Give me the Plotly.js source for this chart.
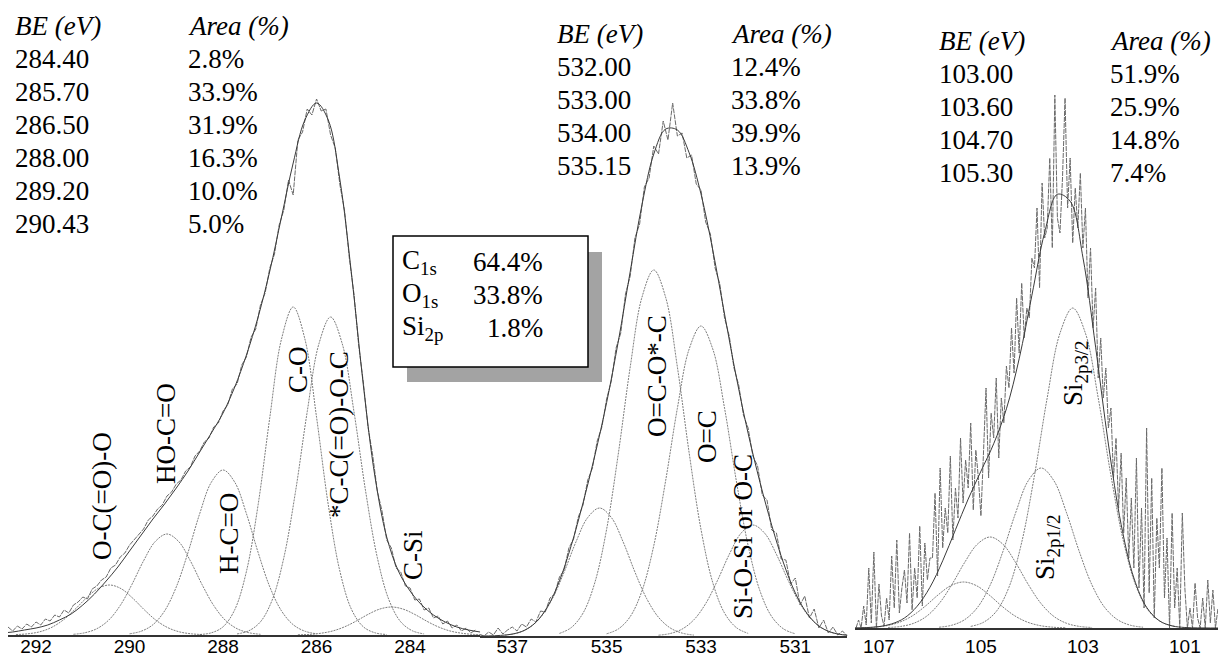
<!DOCTYPE html>
<html>
<head>
<meta charset="utf-8">
<script src="https://cdn.plot.ly/plotly-3.0.1.min.js"></script>
<style>html,body{margin:0;padding:0;background:#fff;}#chart{width:1218px;height:657px;}</style>
</head>
<body>
<div id="chart"></div>
<script>
// ---------------- C1s panel ----------------
const c1sTickVals = [292, 290, 288, 286, 284];
const c1sTickText = ['292', '290', '288', '286', '284'];
const c1sBE = ['284.40', '285.70', '286.50', '288.00', '289.20', '290.43'];
const c1sArea = ['2.8%', '33.9%', '31.9%', '16.3%', '10.0%', '5.0%'];

const c1sOCOO_E = [292.43,292.18,291.93,291.68,291.43,291.18,290.93,290.68,290.43,290.18,289.93,289.68,289.43,289.18,288.93,288.68,288.43];
const c1sOCOO_I = [0.4,1.2,3.1,7.3,14.6,25.0,36.7,46.3,50.0,46.3,36.7,25.0,14.6,7.3,3.1,1.2,0.4];
const c1sHOCO_E = [291.2,290.95,290.7,290.45,290.2,289.95,289.7,289.45,289.2,288.95,288.7,288.45,288.2,287.95,287.7,287.45,287.2];
const c1sHOCO_I = [0.7,2.3,6.3,14.7,29.5,50.5,74.2,93.5,101,93.5,74.2,50.5,29.5,14.7,6.3,2.3,0.7];
const c1sHCO_E = [290.0,289.75,289.5,289.25,289.0,288.75,288.5,288.25,288.0,287.75,287.5,287.25,287.0,286.75,286.5,286.25,286.0];
const c1sHCO_I = [1.2,3.8,10.3,24.1,48.1,82.5,121.3,152.8,165,152.8,121.3,82.5,48.1,24.1,10.3,3.8,1.2];
const c1sCO_E = [288.5,288.25,288.0,287.75,287.5,287.25,287.0,286.75,286.5,286.25,286.0,285.75,285.5,285.25,285.0,284.75,284.5];
const c1sCO_I = [0.5,2.2,8.2,25.3,63.6,130.3,217.6,296.0,328,296.0,217.6,130.3,63.6,25.3,8.2,2.2,0.5];
const c1sCC_E = [287.7,287.45,287.2,286.95,286.7,286.45,286.2,285.95,285.7,285.45,285.2,284.95,284.7,284.45,284.2,283.95,283.7];
const c1sCC_I = [1.1,4.2,13.2,34.9,77.3,143.5,223.3,291.1,318,291.1,223.3,143.5,77.3,34.9,13.2,4.2,1.1];
const c1sCSi_E = [286.4,286.15,285.9,285.65,285.4,285.15,284.9,284.65,284.4,284.15,283.9,283.65,283.4,283.15,282.9,282.65,282.4];
const c1sCSi_I = [0.2,0.6,1.8,4.1,8.2,14.0,20.6,25.9,28,25.9,20.6,14.0,8.2,4.1,1.8,0.6,0.2];

const c1sEnv_E = [292.75,292.5,292.25,292.0,291.75,291.5,291.25,291.0,290.75,290.5,290.25,290.0,289.75,289.5,289.25,289.0,288.75,288.5,288.25,288.0,287.75,287.5,287.25,287.0,286.75,286.5,286.25,286.0,285.75,285.5,285.25,285.0,284.75,284.5,284.25,284.0,283.75,283.5,283.25,283.0,282.75,282.5];
const c1sEnv_I = [2,3,5,7,10,15,21,30,41,54,68,84,100,116,131,147,164,183,202,222,248,280,318,364,418,472,515,532,515,455,360,250,158,98,64,44,30,20,13,8,5,3];

const c1sData_E = [292.6,292.5,292.4,292.3,292.2,292.1,292.0,
 291.9,291.8,291.7,291.6,291.5,291.4,291.3,291.2,291.1,291.0,
 290.9,290.8,290.7,290.6,290.5,290.4,290.3,290.2,290.1,290.0,
 289.9,289.8,289.7,289.6,289.5,289.4,289.3,289.2,289.1,289.0,
 288.9,288.8,288.7,288.6,288.5,288.4,288.3,288.2,288.1,288.0,
 287.9,287.8,287.7,287.6,287.5,287.4,287.3,287.2,287.1,287.0,
 286.9,286.8,286.7,286.6,286.5,286.4,286.3,286.2,286.1,286.0,
 285.9,285.8,285.7,285.6,285.5,285.4,285.3,285.2,285.1,285.0,
 284.9,284.8,284.7,284.6,284.5,284.4,284.3,284.2,284.1,284.0,
 283.9,283.8,283.7,283.6,283.5,283.4,283.3,283.2,283.1,283.0,
 282.9,282.8,282.7,282.6];
const c1sData_I = [8,4,9,6,11,8,13,
 10,16,14,20,18,25,22,30,33,38,
 36,46,49,55,58,67,70,78,82,90,
 95,101,106,115,119,126,130,139,143,151,
 155,164,168,179,184,193,197,208,212,224,
 230,246,251,270,278,298,306,330,342,367,
 381,410,425,455,440,495,503,526,520,536,
 524,526,500,487,450,424,377,341,290,253,
 208,180,144,124,95,87,67,63,49,47,
 35,36,25,27,17,19,11,14,7,10,
 4,7,2,5];

// ---------------- O1s panel ----------------
const o1sTickVals = [537, 535, 533, 531];
const o1sTickText = ['537', '535', '533', '531'];
const o1sBE = ['532.00', '533.00', '534.00', '535.15'];
const o1sArea = ['12.4%', '33.8%', '39.9%', '13.9%'];

const o1sP1_E = [537.15,536.9,536.65,536.4,536.15,535.9,535.65,535.4,535.15,534.9,534.65,534.4,534.15,533.9,533.65,533.4,533.15];
const o1sP1_I = [0.9,2.9,8.0,18.7,37.3,64.0,94.1,118.5,128,118.5,94.1,64.0,37.3,18.7,8.0,2.9,0.9];
const o1sP2_E = [536.0,535.75,535.5,535.25,535.0,534.75,534.5,534.25,534.0,533.75,533.5,533.25,533.0,532.75,532.5,532.25,532.0];
const o1sP2_I = [2.6,8.4,22.9,53.4,106.7,183.0,269.0,338.9,366,338.9,269.0,183.0,106.7,53.4,22.9,8.4,2.6];
const o1sP3_E = [535.0,534.75,534.5,534.25,534.0,533.75,533.5,533.25,533.0,532.75,532.5,532.25,532.0,531.75,531.5,531.25,531.0];
const o1sP3_I = [2.2,7.1,19.4,45.2,90.4,155.0,227.8,287.0,310,287.0,227.8,155.0,90.4,45.2,19.4,7.1,2.2];
const o1sP4_E = [533.9,533.65,533.4,533.15,532.9,532.65,532.4,532.15,531.9,531.65,531.4,531.15,530.9,530.65,530.4,530.15,529.9];
const o1sP4_I = [0.8,2.5,6.9,16.2,32.4,55.5,81.6,102.8,111,102.8,81.6,55.5,32.4,16.2,6.9,2.5,0.8];

const o1sEnv_E = [537.75,537.5,537.25,537.0,536.75,536.5,536.25,536.0,535.75,535.5,535.25,535.0,534.75,534.5,534.25,534.0,533.75,533.5,533.25,533.0,532.75,532.5,532.25,532.0,531.75,531.5,531.25,531.0,530.75,530.5,530.25,530.0,529.75];
const o1sEnv_I = [0,0.1,0.6,1.9,5.5,13.7,29.5,55.1,90.5,133.1,180.4,233.4,295.2,364.4,431.4,482.0,506.9,506.0,483.2,442.1,386.0,321.9,258.8,202.6,153.9,110.7,73.0,43.1,22.4,10.0,3.9,1.3,0.4];

const o1sData_E = [537.7,537.6,537.5,537.4,537.3,537.2,537.1,537.0,
 536.9,536.8,536.7,536.6,536.5,536.4,536.3,536.2,536.1,536.0,
 535.9,535.8,535.7,535.6,535.5,535.4,535.3,535.2,535.1,535.0,
 534.9,534.8,534.7,534.6,534.5,534.4,534.3,534.2,534.1,534.0,
 533.9,533.8,533.7,533.6,533.5,533.4,533.3,533.2,533.1,533.0,
 532.9,532.8,532.7,532.6,532.5,532.4,532.3,532.2,532.1,532.0,
 531.9,531.8,531.7,531.6,531.5,531.4,531.3,531.2,531.1,531.0,
 530.9,530.8,530.7,530.6,530.5,530.4,530.3,530.2,530.1,530.0,
 529.9];
const o1sData_I = [2,0,4,1,8,2,6,9,
 5,12,9,17,14,25,24,38,42,59,
 66,88,97,119,131,156,168,195,209,237,
 255,288,303,342,360,398,412,449,458,490,
 482,515,496,533,500,503,478,481,452,446,
 414,402,368,352,318,300,268,251,221,208,
 180,170,141,136,106,103,77,76,52,58,
 31,40,18,27,8,16,3,9,1,5,
 0];

// ---------------- Si2p panel ----------------
const si2pTickVals = [107, 105, 103, 101];
const si2pTickText = ['107', '105', '103', '101'];
const si2pBE = ['103.00', '103.60', '104.70', '105.30'];
const si2pArea = ['51.9%', '25.9%', '14.8%', '7.4%'];

const siP1_E = [105.2,104.95,104.7,104.45,104.2,103.95,103.7,103.45,103.2,102.95,102.7,102.45,102.2,101.95,101.7,101.45,101.2];
const siP1_I = [1.6,5.7,16.5,40.8,85.7,152.5,230.2,294.7,320,294.7,230.2,152.5,85.7,40.8,16.5,5.7,1.6];
const siP2_E = [105.82,105.57,105.32,105.07,104.82,104.57,104.32,104.07,103.82,103.57,103.32,103.07,102.82,102.57,102.32,102.07,101.82];
const siP2_I = [0.8,2.8,8.3,20.4,42.8,76.3,115.1,147.4,160,147.4,115.1,76.3,42.8,20.4,8.3,2.8,0.8];
const siP3_E = [106.82,106.57,106.32,106.07,105.82,105.57,105.32,105.07,104.82,104.57,104.32,104.07,103.82,103.57,103.32,103.07,102.82];
const siP3_I = [0.5,1.6,4.7,11.6,24.4,43.4,65.5,83.8,91,83.8,65.5,43.4,24.4,11.6,4.7,1.6,0.5];
const siP4_E = [107.34,107.09,106.84,106.59,106.34,106.09,105.84,105.59,105.34,105.09,104.84,104.59,104.34,104.09,103.84,103.59,103.34];
const siP4_I = [0.2,0.8,2.4,5.9,12.3,21.9,33.1,42.4,46,42.4,33.1,21.9,12.3,5.9,2.4,0.8,0.2];

const siEnv_E = [107.5,107.25,107,106.75,106.5,106.25,106,105.75,105.5,105.25,105,104.75,104.5,104.25,104,103.75,103.5,103.25,103,102.75,102.5,102.25,102,101.75,101.5,101.25,101,100.75,100.5,100.25];
const siEnv_I = [0.1,0.4,1.4,4.1,10.0,21.8,40.7,67.2,98.2,128.9,156.8,184.2,219.2,269.2,332.8,395.5,433.7,426.8,370.8,280.8,184.0,103.6,50.0,20.7,7.2,2.1,0.5,0.1,0,0];

const siData_E = [107.45,107.40,107.35,107.30,107.25,107.20,107.15,107.10,107.05,107.00,
 106.95,106.90,106.85,106.80,106.75,106.70,106.65,106.60,106.55,106.50,
 106.45,106.40,106.35,106.30,106.25,106.20,106.15,106.10,106.05,106.00,
 105.95,105.90,105.85,105.80,105.75,105.70,105.65,105.60,105.55,105.50,
 105.45,105.40,105.35,105.30,105.25,105.20,105.15,105.10,105.05,105.00,
 104.95,104.90,104.85,104.80,104.75,104.70,104.65,104.60,104.55,104.50,
 104.45,104.40,104.35,104.30,104.25,104.20,104.15,104.10,104.05,104.00,
 103.95,103.90,103.85,103.80,103.75,103.70,103.65,103.60,103.55,103.50,
 103.45,103.40,103.35,103.30,103.25,103.20,103.15,103.10,103.05,103.00,
 102.95,102.90,102.85,102.80,102.75,102.70,102.65,102.60,102.55,102.50,
 102.45,102.40,102.35,102.30,102.25,102.20,102.15,102.10,102.05,102.00,
 101.95,101.90,101.85,101.80,101.75,101.70,101.65,101.60,101.55,101.50,
 101.45,101.40,101.35,101.30,101.25,101.20,101.15,101.10,101.05,101.00,
 100.95,100.90,100.85,100.80,100.75,100.70,100.65,100.60,100.55,100.50,100.45,100.40,100.35];
const siData_I = [0,8,0,22,3,60,5,76,0,44,
 12,2,30,8,72,20,88,15,40,58,
 25,95,18,60,30,102,22,85,48,70,
 70,135,52,160,80,120,95,172,88,140,
 110,190,125,168,140,205,118,178,150,112,
 175,240,150,215,190,250,170,230,205,262,
 240,300,255,330,275,345,290,320,310,370,
 360,420,340,445,390,400,470,380,533,410,
 395,450,530,420,470,385,440,400,455,380,
 420,330,380,300,340,250,290,230,260,200,
 220,150,190,120,175,95,150,70,130,60,
 170,40,120,20,200,35,150,10,110,60,
 160,30,90,0,115,20,60,0,115,40,
 0,20,0,45,10,0,30,0,48,5,38,0,20];

// ---------------- summary box ----------------
const totalLabels = ['C<sub>1s</sub>', 'O<sub>1s</sub>', 'Si<sub>2p</sub>'];
const totalValues = ['64.4%', '33.8%', '1.8%'];

// ---------------- drawing ----------------
const W = 1218, H = 657;
const px = v => v / W;
const py = v => 1 - v / H;

const compLine = {color: '#6e6e6e', width: 0.9, dash: '2px,1px'};
const envLine = {color: '#3a3a3a', width: 1};
const dataLine = {color: '#6a6a6a', width: 1, dash: '5px,1px'};

function tr(x, y, ax, line, shape) {
  return {x: x, y: y, type: 'scatter', mode: 'lines', xaxis: 'x' + ax, yaxis: 'y' + ax,
    line: Object.assign({shape: shape}, line), hoverinfo: 'skip'};
}

const traces = [
  tr(c1sOCOO_E, c1sOCOO_I, '', compLine, 'spline'),
  tr(c1sHOCO_E, c1sHOCO_I, '', compLine, 'spline'),
  tr(c1sHCO_E, c1sHCO_I, '', compLine, 'spline'),
  tr(c1sCO_E, c1sCO_I, '', compLine, 'spline'),
  tr(c1sCC_E, c1sCC_I, '', compLine, 'spline'),
  tr(c1sCSi_E, c1sCSi_I, '', compLine, 'spline'),
  tr(c1sData_E, c1sData_I, '', dataLine, 'linear'),
  tr(c1sEnv_E, c1sEnv_I, '', envLine, 'spline'),

  tr(o1sP1_E, o1sP1_I, '2', compLine, 'spline'),
  tr(o1sP2_E, o1sP2_I, '2', compLine, 'spline'),
  tr(o1sP3_E, o1sP3_I, '2', compLine, 'spline'),
  tr(o1sP4_E, o1sP4_I, '2', compLine, 'spline'),
  tr(o1sData_E, o1sData_I, '2', dataLine, 'linear'),
  tr(o1sEnv_E, o1sEnv_I, '2', envLine, 'spline'),

  tr(siP1_E, siP1_I, '3', compLine, 'spline'),
  tr(siP2_E, siP2_I, '3', compLine, 'spline'),
  tr(siP3_E, siP3_I, '3', compLine, 'spline'),
  tr(siP4_E, siP4_I, '3', compLine, 'spline'),
  tr(siData_E, siData_I, '3', dataLine, 'linear'),
  tr(siEnv_E, siEnv_I, '3', envLine, 'spline')
];

const tickFont = {family: '"Liberation Sans", Arial, sans-serif', size: 19, color: '#000'};
function xax(domain, range, vals, text, yname, standoff) {
  return {domain: domain, range: range, anchor: yname, tickmode: 'array',
    tickvals: vals, ticktext: text, showline: true, linecolor: '#333', linewidth: 1.5,
    showgrid: false, zeroline: false, ticks: '', tickfont: tickFont, fixedrange: true,
    ticklabelstandoff: standoff};
}
function yax(domain, range) {
  return {domain: domain, range: range, visible: false, showgrid: false, zeroline: false, fixedrange: true};
}

const serif = '"Liberation Serif", "Times New Roman", Times, serif';
const annotations = [];
function ann(text, x, y, opt) {
  annotations.push(Object.assign({text: text, x: px(x), y: py(y), xref: 'paper', yref: 'paper',
    showarrow: false, xanchor: 'left', yanchor: 'middle',
    font: {family: serif, size: 27, color: '#000'}}, opt || {}));
}
function table(x1, x2, yHead, rowGap, be, area) {
  ann('<i>BE (eV)</i>', x1, yHead);
  ann('<i>Area (%)</i>', x2, yHead);
  be.forEach((v, i) => { ann(v, x1, yHead + rowGap * (i + 1)); ann(area[i], x2, yHead + rowGap * (i + 1)); });
}
table(13, 186, 26, 33, c1sBE, c1sArea);
table(555, 729, 34, 33, o1sBE, o1sArea);
table(937, 1108, 41, 33, si2pBE, si2pArea);

// summary box text
totalLabels.forEach((t, i) => {
  ann(t, 400, 262 + 33 * i);
  ann(totalValues[i], 545, 262 + 33 * i, {xanchor: 'right'});
});

// rotated peak labels
const rot = {textangle: -90, xanchor: 'center', yanchor: 'middle', font: {family: serif, size: 27, color: '#000'}};
ann('O-C(=O)-O', 102, 496, rot);
ann('HO-C=O', 166, 434, rot);
ann('H-C=O', 229, 534, rot);
ann('C-O', 298, 370, rot);
ann('*C-C(=O)-O-C', 339, 435, rot);
ann('C-Si', 413, 555, rot);
ann('O=C-O*-C', 657, 376, rot);
ann('O=C', 707, 437, rot);
ann('Si-O-Si or O-C', 743, 537, rot);
ann('Si<sub>2p3/2</sub>', 1075, 373, rot);
ann('Si<sub>2p1/2</sub>', 1047, 547, rot);

const shapes = [
  {type: 'rect', xref: 'paper', yref: 'paper', x0: px(407), x1: px(602), y0: py(382), y1: py(252),
    fillcolor: '#a3a3a3', line: {width: 0}, layer: 'above'},
  {type: 'rect', xref: 'paper', yref: 'paper', x0: px(393), x1: px(588), y0: py(367), y1: py(236),
    fillcolor: '#ffffff', line: {color: '#000', width: 1.5}, layer: 'above'}
];

const layout = {
  width: W, height: H, margin: {l: 0, r: 0, t: 0, b: 0},
  paper_bgcolor: '#fff', plot_bgcolor: 'rgba(0,0,0,0)', showlegend: false,
  xaxis: xax([px(8), px(480.2)], [292.6, 282.5], c1sTickVals, c1sTickText, 'y', -6),
  yaxis: yax([22 / H, 1], [0, 635]),
  xaxis2: xax([px(480.2), px(847.2)], [537.68, 529.9], o1sTickVals, o1sTickText, 'y2', -7),
  yaxis2: yax([21 / H, 1], [0, 636]),
  xaxis3: xax([px(855), px(1218)], [107.47, 100.35], si2pTickVals, si2pTickText, 'y3', 1),
  yaxis3: yax([29 / H, 1], [0, 628]),
  annotations: annotations,
  shapes: shapes
};

Plotly.newPlot('chart', traces, layout, {displayModeBar: false, staticPlot: true});
</script>
</body>
</html>
